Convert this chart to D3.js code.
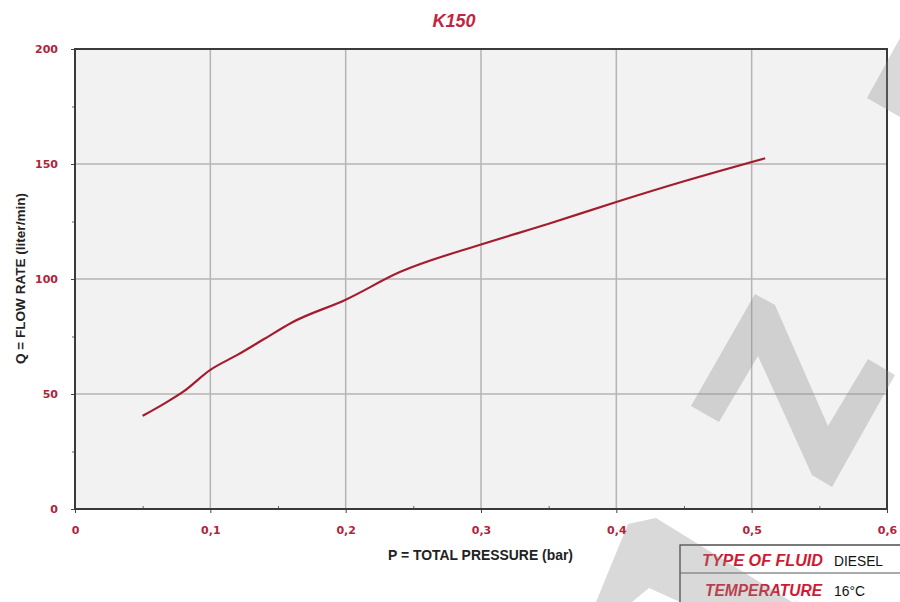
<!DOCTYPE html>
<html>
<head>
<meta charset="utf-8">
<script src="https://cdn.jsdelivr.net/npm/d3@7"></script>
<style>
  body { margin: 0; background: #fff; }
  svg { display: block; font-family: "Liberation Sans", "DejaVu Sans", sans-serif; }
  .tick text { fill: #b0243c; font-weight: bold; font-size: 11px; font-family: "DejaVu Sans", sans-serif; }
</style>
</head>
<body>
<script>
// pressure (bar) and flow rate (liter/min)
var pressure = [0.05, 0.065, 0.08, 0.1, 0.12, 0.14, 0.16, 0.2, 0.24, 0.3, 0.35, 0.4, 0.45, 0.51];
var flowRate = [40.5, 45.5, 51, 60.5, 67, 74, 81, 91, 103, 115, 124, 133.5, 142.5, 152.5];

var xTicks = [0, 0.1, 0.2, 0.3, 0.4, 0.5, 0.6];
var xTickLabels = ["0", "0,1", "0,2", "0,3", "0,4", "0,5", "0,6"];
var yTicks = [0, 50, 100, 150, 200];

var title = "K150";
var xTitle = "P = TOTAL PRESSURE (bar)";
var yTitle = "Q = FLOW RATE (liter/min)";
var infoRows = [["TYPE OF FLUID", "DIESEL"], ["TEMPERATURE", "16°C"]];

var W = 900, H = 602;
var margin = {top: 49, right: 13, bottom: 93, left: 75};
var width = W - margin.left - margin.right,
    height = H - margin.top - margin.bottom;

var svg = d3.select("body").append("svg")
    .attr("width", W)
    .attr("height", H);

var g = svg.append("g")
    .attr("transform", "translate(" + margin.left + "," + margin.top + ")");

var x = d3.scaleLinear().domain([0, 0.6]).range([0, width]);
var y = d3.scaleLinear().domain([0, 200]).range([height, 0]);

// plot background
g.append("rect")
    .attr("width", width)
    .attr("height", height)
    .attr("fill", "#f2f2f2");

// grid lines
g.selectAll(".vgrid")
    .data(xTicks)
    .enter().append("line")
    .attr("x1", function(d) { return x(d); })
    .attr("x2", function(d) { return x(d); })
    .attr("y1", 0).attr("y2", height)
    .attr("stroke", "#b4b4b4").attr("stroke-width", 1.5);

g.selectAll(".hgrid")
    .data(yTicks)
    .enter().append("line")
    .attr("y1", function(d) { return y(d); })
    .attr("y2", function(d) { return y(d); })
    .attr("x1", 0).attr("x2", width)
    .attr("stroke", "#b4b4b4").attr("stroke-width", 1.5);

// minor ticks, crossing the frame
var xAxisMinor = d3.axisBottom(x).tickValues(d3.range(0.05, 0.6, 0.1)).tickSize(-3).tickFormat("");
g.append("g").attr("transform", "translate(0," + height + ")").call(xAxisMinor)
    .call(function(s) { s.select(".domain").remove(); s.selectAll("line").attr("stroke", "#666"); });
var yAxisMinor = d3.axisLeft(y).tickValues([25, 75, 125, 175]).tickSize(3).tickFormat("");
g.append("g").call(yAxisMinor)
    .call(function(s) { s.select(".domain").remove(); s.selectAll("line").attr("stroke", "#666"); });

// axes
var xAxis = d3.axisBottom(x).tickValues(xTicks).tickSize(4).tickPadding(13)
    .tickFormat(function(d, i) { return xTickLabels[i]; });
g.append("g")
    .attr("transform", "translate(0," + height + ")")
    .call(xAxis)
    .call(function(s) { s.select(".domain").remove(); s.selectAll("line").attr("stroke", "#444"); });

var yAxis = d3.axisLeft(y).tickValues(yTicks).tickSize(4).tickPadding(13);
g.append("g")
    .call(yAxis)
    .call(function(s) { s.select(".domain").remove(); s.selectAll("line").attr("stroke", "#444"); });

// frame
g.append("rect")
    .attr("width", width)
    .attr("height", height)
    .attr("fill", "none")
    .attr("stroke", "#3a3a3a")
    .attr("stroke-width", 2);

// the curve
var line = d3.line()
    .x(function(d, i) { return x(pressure[i]); })
    .y(function(d) { return y(d); })
    .curve(d3.curveMonotoneX);

g.append("path")
    .datum(flowRate)
    .attr("d", line)
    .attr("fill", "none")
    .attr("stroke", "#a31d2e")
    .attr("stroke-width", 2.2);

// titles
svg.append("text")
    .attr("x", 454).attr("y", 27)
    .attr("text-anchor", "middle")
    .attr("font-size", 18).attr("font-weight", "bold").attr("font-style", "italic")
    .attr("fill", "#c0263f")
    .text(title);

svg.append("text")
    .attr("x", 388).attr("y", 560)
    .attr("textLength", 185).attr("lengthAdjust", "spacingAndGlyphs")
    .attr("font-size", 14).attr("font-weight", "bold")
    .attr("fill", "#222")
    .text(xTitle);

svg.append("text")
    .attr("transform", "translate(25,364) rotate(-90)")
    .attr("textLength", 171).attr("lengthAdjust", "spacingAndGlyphs")
    .attr("font-size", 13).attr("font-weight", "bold")
    .attr("fill", "#222")
    .text(yTitle);

// info table
var tbl = svg.append("g");
tbl.append("rect")
    .attr("x", 680).attr("y", 545).attr("width", 222).attr("height", 60)
    .attr("fill", "#fff").attr("stroke", "#222").attr("stroke-width", 1.2);
tbl.append("line")
    .attr("x1", 680).attr("x2", 900).attr("y1", 573).attr("y2", 573)
    .attr("stroke", "#555").attr("stroke-width", 1);

var labelSpan = [[702, 121], [705, 117]];
var valueSpan = [49, 31];
infoRows.forEach(function(r, i) {
    var ty = 566 + i * 30;
    tbl.append("text")
        .attr("x", labelSpan[i][0]).attr("y", ty)
        .attr("textLength", labelSpan[i][1]).attr("lengthAdjust", "spacingAndGlyphs")
        .attr("font-size", 16).attr("font-weight", "bold").attr("font-style", "italic")
        .attr("fill", "#d01a32")
        .text(r[0]);
    tbl.append("text")
        .attr("x", 834).attr("y", ty)
        .attr("textLength", valueSpan[i]).attr("lengthAdjust", "spacingAndGlyphs")
        .attr("font-size", 14)
        .attr("fill", "#111")
        .text(r[1]);
});

// grey watermark strokes on top
var marks = [
    [[691,406],[755,294],[775,305],[828,426],[868,359],[895,375],[832,487],[812,475],[758,356],[719,422]],
    [[867,98],[900,38],[900,117]],
    [[596,602],[628,524],[656,518],[792,602],[680,602],[649,588],[632,602]]
];
svg.selectAll(".wm")
    .data(marks)
    .enter().append("polygon")
    .attr("points", function(d) { return d.map(function(p) { return p.join(","); }).join(" "); })
    .attr("fill", "rgba(140,140,140,0.33)");
</script>
</body>
</html>
